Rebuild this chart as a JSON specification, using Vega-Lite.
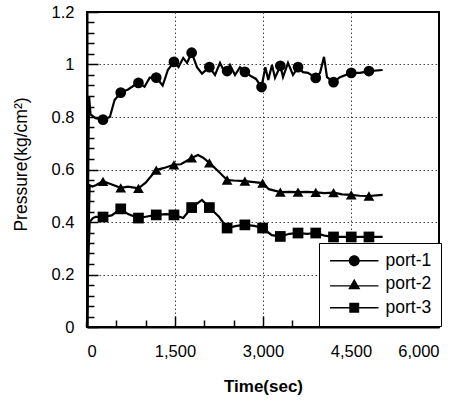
{
  "$schema": "https://vega.github.io/schema/vega-lite/v6.json",
  "width": 352,
  "height": 315,
  "autosize": {"type": "none"},
  "padding": {"left": 87, "top": 12, "right": 27, "bottom": 78},
  "background": "white",
  "config": {
    "view": {"stroke": "black", "strokeWidth": 2},
    "font": "Liberation Sans",
    "axis": {
      "domainColor": "black", "domainWidth": 2, "tickColor": "black",
      "labelColor": "black", "titleColor": "black", "labelFont": "Liberation Sans",
      "titleFont": "Liberation Sans", "labelFontSize": 16.5, "gridColor": "#444",
      "gridDash": [1.5, 2.5], "gridWidth": 1
    },
    "legend": {"labelFont": "Liberation Sans"}
  },
  "datasets": {
    "lines": [
      {"port": "port-1", "t": 0, "p": 0}, {"port": "port-1", "t": 15, "p": 0.45}, {"port": "port-1", "t": 35, "p": 0.88},
      {"port": "port-1", "t": 60, "p": 0.81}, {"port": "port-1", "t": 150, "p": 0.795}, {"port": "port-1", "t": 273, "p": 0.79},
      {"port": "port-1", "t": 390, "p": 0.8}, {"port": "port-1", "t": 470, "p": 0.865}, {"port": "port-1", "t": 575, "p": 0.893},
      {"port": "port-1", "t": 700, "p": 0.905}, {"port": "port-1", "t": 800, "p": 0.92}, {"port": "port-1", "t": 877, "p": 0.93},
      {"port": "port-1", "t": 980, "p": 0.915}, {"port": "port-1", "t": 1070, "p": 0.95}, {"port": "port-1", "t": 1180, "p": 0.95},
      {"port": "port-1", "t": 1290, "p": 0.92}, {"port": "port-1", "t": 1380, "p": 0.98}, {"port": "port-1", "t": 1482, "p": 1.01},
      {"port": "port-1", "t": 1560, "p": 0.99}, {"port": "port-1", "t": 1640, "p": 1.025}, {"port": "port-1", "t": 1705, "p": 1.006},
      {"port": "port-1", "t": 1784, "p": 1.045}, {"port": "port-1", "t": 1875, "p": 0.99}, {"port": "port-1", "t": 1960, "p": 0.965},
      {"port": "port-1", "t": 2086, "p": 0.99}, {"port": "port-1", "t": 2182, "p": 0.96}, {"port": "port-1", "t": 2267, "p": 1.006},
      {"port": "port-1", "t": 2352, "p": 0.968}, {"port": "port-1", "t": 2388, "p": 0.975}, {"port": "port-1", "t": 2437, "p": 0.998},
      {"port": "port-1", "t": 2523, "p": 0.96}, {"port": "port-1", "t": 2608, "p": 0.99}, {"port": "port-1", "t": 2691, "p": 0.972},
      {"port": "port-1", "t": 2800, "p": 0.955}, {"port": "port-1", "t": 2880, "p": 0.945}, {"port": "port-1", "t": 2975, "p": 0.914},
      {"port": "port-1", "t": 3040, "p": 0.99}, {"port": "port-1", "t": 3090, "p": 0.941}, {"port": "port-1", "t": 3153, "p": 0.998},
      {"port": "port-1", "t": 3205, "p": 0.949}, {"port": "port-1", "t": 3295, "p": 0.995}, {"port": "port-1", "t": 3341, "p": 0.952},
      {"port": "port-1", "t": 3426, "p": 1.006}, {"port": "port-1", "t": 3511, "p": 0.96}, {"port": "port-1", "t": 3597, "p": 0.99},
      {"port": "port-1", "t": 3682, "p": 0.971}, {"port": "port-1", "t": 3767, "p": 0.968}, {"port": "port-1", "t": 3899, "p": 0.949},
      {"port": "port-1", "t": 3972, "p": 0.968}, {"port": "port-1", "t": 4040, "p": 1.029}, {"port": "port-1", "t": 4091, "p": 0.952},
      {"port": "port-1", "t": 4202, "p": 0.933}, {"port": "port-1", "t": 4312, "p": 0.952}, {"port": "port-1", "t": 4504, "p": 0.968},
      {"port": "port-1", "t": 4653, "p": 0.968}, {"port": "port-1", "t": 4806, "p": 0.975}, {"port": "port-1", "t": 5040, "p": 0.979},

      {"port": "port-2", "t": 0, "p": 0}, {"port": "port-2", "t": 20, "p": 0.3}, {"port": "port-2", "t": 45, "p": 0.54},
      {"port": "port-2", "t": 90, "p": 0.535}, {"port": "port-2", "t": 150, "p": 0.54}, {"port": "port-2", "t": 273, "p": 0.555},
      {"port": "port-2", "t": 400, "p": 0.545}, {"port": "port-2", "t": 575, "p": 0.53}, {"port": "port-2", "t": 700, "p": 0.535},
      {"port": "port-2", "t": 877, "p": 0.528}, {"port": "port-2", "t": 1000, "p": 0.55}, {"port": "port-2", "t": 1180, "p": 0.598},
      {"port": "port-2", "t": 1300, "p": 0.605}, {"port": "port-2", "t": 1482, "p": 0.618}, {"port": "port-2", "t": 1600, "p": 0.62},
      {"port": "port-2", "t": 1784, "p": 0.644}, {"port": "port-2", "t": 1892, "p": 0.655}, {"port": "port-2", "t": 1980, "p": 0.645},
      {"port": "port-2", "t": 2086, "p": 0.625}, {"port": "port-2", "t": 2216, "p": 0.598}, {"port": "port-2", "t": 2388, "p": 0.56},
      {"port": "port-2", "t": 2500, "p": 0.558}, {"port": "port-2", "t": 2691, "p": 0.556}, {"port": "port-2", "t": 2850, "p": 0.552},
      {"port": "port-2", "t": 2993, "p": 0.548}, {"port": "port-2", "t": 3100, "p": 0.525}, {"port": "port-2", "t": 3295, "p": 0.514},
      {"port": "port-2", "t": 3450, "p": 0.515}, {"port": "port-2", "t": 3597, "p": 0.514}, {"port": "port-2", "t": 3750, "p": 0.515},
      {"port": "port-2", "t": 3899, "p": 0.513}, {"port": "port-2", "t": 4050, "p": 0.51}, {"port": "port-2", "t": 4202, "p": 0.512},
      {"port": "port-2", "t": 4350, "p": 0.505}, {"port": "port-2", "t": 4504, "p": 0.503}, {"port": "port-2", "t": 4650, "p": 0.5},
      {"port": "port-2", "t": 4806, "p": 0.499}, {"port": "port-2", "t": 5040, "p": 0.503},

      {"port": "port-3", "t": 0, "p": 0}, {"port": "port-3", "t": 20, "p": 0.25}, {"port": "port-3", "t": 45, "p": 0.4},
      {"port": "port-3", "t": 100, "p": 0.415}, {"port": "port-3", "t": 150, "p": 0.42}, {"port": "port-3", "t": 273, "p": 0.419},
      {"port": "port-3", "t": 420, "p": 0.425}, {"port": "port-3", "t": 575, "p": 0.45}, {"port": "port-3", "t": 700, "p": 0.43},
      {"port": "port-3", "t": 877, "p": 0.415}, {"port": "port-3", "t": 1000, "p": 0.42}, {"port": "port-3", "t": 1180, "p": 0.427},
      {"port": "port-3", "t": 1350, "p": 0.43}, {"port": "port-3", "t": 1482, "p": 0.427}, {"port": "port-3", "t": 1640, "p": 0.415},
      {"port": "port-3", "t": 1784, "p": 0.455}, {"port": "port-3", "t": 1960, "p": 0.484}, {"port": "port-3", "t": 2086, "p": 0.455},
      {"port": "port-3", "t": 2250, "p": 0.42}, {"port": "port-3", "t": 2388, "p": 0.377}, {"port": "port-3", "t": 2550, "p": 0.385},
      {"port": "port-3", "t": 2691, "p": 0.389}, {"port": "port-3", "t": 2850, "p": 0.385}, {"port": "port-3", "t": 2993, "p": 0.377},
      {"port": "port-3", "t": 3150, "p": 0.35}, {"port": "port-3", "t": 3295, "p": 0.345}, {"port": "port-3", "t": 3450, "p": 0.355},
      {"port": "port-3", "t": 3597, "p": 0.358}, {"port": "port-3", "t": 3750, "p": 0.355}, {"port": "port-3", "t": 3899, "p": 0.358},
      {"port": "port-3", "t": 4050, "p": 0.348}, {"port": "port-3", "t": 4202, "p": 0.343}, {"port": "port-3", "t": 4504, "p": 0.343},
      {"port": "port-3", "t": 4806, "p": 0.343}, {"port": "port-3", "t": 5040, "p": 0.343}
    ],
    "markers": [
      {"port": "port-1", "t": 273, "p": 0.79}, {"port": "port-1", "t": 575, "p": 0.893}, {"port": "port-1", "t": 877, "p": 0.93},
      {"port": "port-1", "t": 1180, "p": 0.95}, {"port": "port-1", "t": 1482, "p": 1.01}, {"port": "port-1", "t": 1784, "p": 1.045},
      {"port": "port-1", "t": 2086, "p": 0.99}, {"port": "port-1", "t": 2388, "p": 0.975}, {"port": "port-1", "t": 2691, "p": 0.972},
      {"port": "port-1", "t": 2975, "p": 0.914}, {"port": "port-1", "t": 3295, "p": 0.995}, {"port": "port-1", "t": 3597, "p": 0.99},
      {"port": "port-1", "t": 3899, "p": 0.949}, {"port": "port-1", "t": 4202, "p": 0.933}, {"port": "port-1", "t": 4504, "p": 0.968},
      {"port": "port-1", "t": 4806, "p": 0.975},
      {"port": "port-2", "t": 273, "p": 0.555}, {"port": "port-2", "t": 575, "p": 0.53}, {"port": "port-2", "t": 877, "p": 0.528},
      {"port": "port-2", "t": 1180, "p": 0.598}, {"port": "port-2", "t": 1482, "p": 0.618}, {"port": "port-2", "t": 1784, "p": 0.644},
      {"port": "port-2", "t": 2086, "p": 0.625}, {"port": "port-2", "t": 2388, "p": 0.56}, {"port": "port-2", "t": 2691, "p": 0.556},
      {"port": "port-2", "t": 2993, "p": 0.548}, {"port": "port-2", "t": 3295, "p": 0.514}, {"port": "port-2", "t": 3597, "p": 0.514},
      {"port": "port-2", "t": 3899, "p": 0.513}, {"port": "port-2", "t": 4202, "p": 0.512}, {"port": "port-2", "t": 4504, "p": 0.503},
      {"port": "port-2", "t": 4806, "p": 0.499},
      {"port": "port-3", "t": 273, "p": 0.419}, {"port": "port-3", "t": 575, "p": 0.45}, {"port": "port-3", "t": 877, "p": 0.415},
      {"port": "port-3", "t": 1180, "p": 0.427}, {"port": "port-3", "t": 1482, "p": 0.427}, {"port": "port-3", "t": 1784, "p": 0.455},
      {"port": "port-3", "t": 2086, "p": 0.455}, {"port": "port-3", "t": 2388, "p": 0.377}, {"port": "port-3", "t": 2691, "p": 0.389},
      {"port": "port-3", "t": 2993, "p": 0.377}, {"port": "port-3", "t": 3295, "p": 0.345}, {"port": "port-3", "t": 3597, "p": 0.358},
      {"port": "port-3", "t": 3899, "p": 0.358}, {"port": "port-3", "t": 4202, "p": 0.343}, {"port": "port-3", "t": 4504, "p": 0.343},
      {"port": "port-3", "t": 4806, "p": 0.343}
    ]
  },
  "encoding": {
    "x": {"field": "t", "type": "quantitative", "scale": {"domain": [0, 6000], "nice": false},
      "axis": {"values": [0, 500, 1000, 1500, 2000, 2500, 3000, 3500, 4000, 4500, 5000, 5500, 6000],
        "labelExpr": "datum.value % 1500 === 0 ? format(datum.value, ',') : ''",
        "grid": true,
        "gridOpacity": {"condition": {"test": "datum.value % 1500 === 0 && datum.value > 0 && datum.value < 6000", "value": 1}, "value": 0},
        "tickSize": {"condition": {"test": "datum.value % 1500 === 0", "value": -11}, "value": -7},
        "tickWidth": 1.5,
        "labelPadding": 27, "title": "Time(sec)", "titleFontSize": 17, "titleFontWeight": "bold", "titlePadding": 19}},
    "y": {"field": "p", "type": "quantitative", "scale": {"domain": [0, 1.2], "nice": false},
      "axis": {"values": [0, 0.04, 0.08, 0.12, 0.16, 0.2, 0.24, 0.28, 0.32, 0.36, 0.4, 0.44, 0.48, 0.52, 0.56, 0.6, 0.64, 0.68, 0.72, 0.76, 0.8, 0.84, 0.88, 0.92, 0.96, 1, 1.04, 1.08, 1.12, 1.16, 1.2],
        "labelExpr": "round(datum.value * 100) % 20 === 0 ? format(datum.value, '~g') : ''",
        "grid": true,
        "gridOpacity": {"condition": {"test": "round(datum.value * 100) % 20 === 0 && datum.value > 0.01 && datum.value < 1.19", "value": 1}, "value": 0},
        "tickSize": {"condition": {"test": "round(datum.value * 100) % 20 === 0", "value": -11}, "value": -7},
        "tickWidth": 1.5,
        "labelPadding": 24, "title": "Pressure(kg/cm²)", "titleFontSize": 17.5, "titleFontWeight": "normal", "titleY": 152, "titleX": -57}}
  },
  "layer": [
    {
      "data": {"name": "lines"},
      "mark": {"type": "line", "color": "black", "strokeWidth": 2.2},
      "encoding": {"detail": {"field": "port"}}
    },
    {
      "data": {"name": "markers"},
      "mark": {"type": "point", "filled": true, "color": "black", "size": 115, "opacity": 1},
      "encoding": {
        "shape": {"field": "port", "type": "nominal", "scale": {"range": ["circle", "triangle-up", "square"]}, "legend": null}
      }
    },
    {
      "data": {"name": "markers"},
      "mark": {"type": "point", "filled": true, "color": "black", "opacity": 0},
      "encoding": {
        "shape": {"field": "port", "type": "nominal",
          "scale": {"range": [
            "M-4.4,-0.13H4.4V0.13H-4.4ZM-1,0A1,1,0,1,1,1,0A1,1,0,1,1,-1,0Z",
            "M-4.4,0.17H4.4V0.43H-4.4ZM0,-1L1.1,0.9L-1.1,0.9Z",
            "M-4.4,-0.13H4.4V0.13H-4.4ZM-0.9,-0.9H0.9V0.9H-0.9Z"
          ]},
          "legend": {"title": null, "orient": "none", "legendX": 232, "legendY": 231, "symbolSize": 121,
            "symbolFillColor": "black", "symbolOpacity": 1, "symbolOffset": 17.5,
            "labelFontSize": 17.5, "labelColor": "black", "labelOffset": 22.5, "rowPadding": 4.5,
            "strokeColor": "black", "fillColor": "white", "padding": 9}
        }
      }
    }
  ],
  "resolve": {"scale": {"shape": "independent"}}
}
